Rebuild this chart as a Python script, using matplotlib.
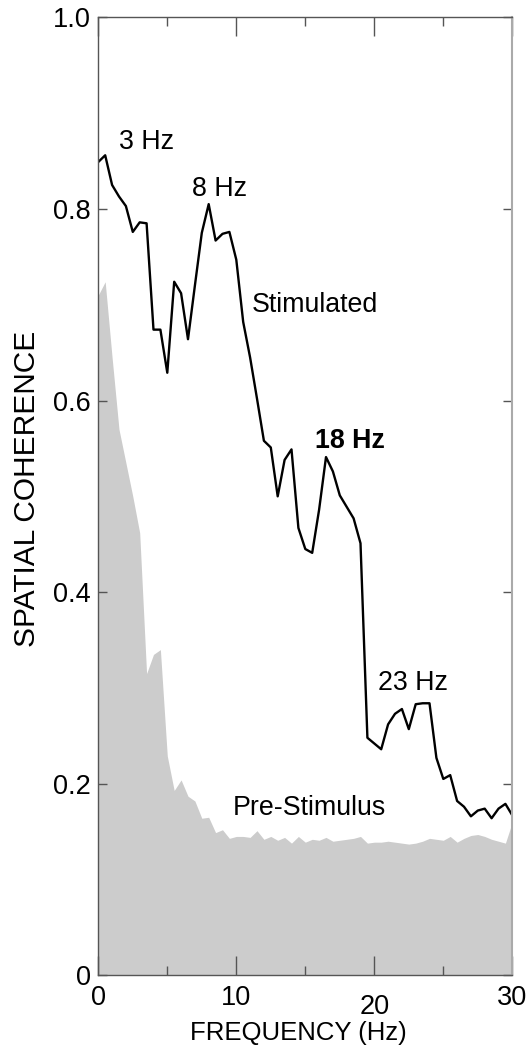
import numpy as np
import matplotlib
matplotlib.use('Agg')
import matplotlib.pyplot as plt
import matplotlib.transforms as mtransforms

plt.rcParams['font.family'] = ['Liberation Sans', 'DejaVu Sans']

# frequency grid (Hz)
freq = [0.0, 0.5, 1.0, 1.5, 2.0, 2.5, 3.0, 3.5, 4.0, 4.5,
        5.0, 5.5, 6.0, 6.5, 7.0, 7.5, 8.0, 8.5, 9.0, 9.5,
        10.0, 10.5, 11.0, 11.5, 12.0, 12.5, 13.0, 13.5, 14.0, 14.5,
        15.0, 15.5, 16.0, 16.5, 17.0, 17.5, 18.0, 18.5, 19.0, 19.5,
        20.0, 20.5, 21.0, 21.5, 22.0, 22.5, 23.0, 23.5, 24.0, 24.5,
        25.0, 25.5, 26.0, 26.5, 27.0, 27.5, 28.0, 28.5, 29.0, 29.5,
        30.0]

# coherence during stimulation
stimulated = [0.849, 0.856, 0.825, 0.813, 0.803, 0.776, 0.786, 0.785, 0.674, 0.674,
              0.629, 0.724, 0.712, 0.664, 0.720, 0.775, 0.805, 0.767, 0.774, 0.776,
              0.747, 0.682, 0.645, 0.602, 0.558, 0.551, 0.500, 0.538, 0.549, 0.467,
              0.445, 0.441, 0.486, 0.541, 0.526, 0.501, 0.489, 0.477, 0.451, 0.248,
              0.242, 0.236, 0.262, 0.273, 0.278, 0.257, 0.283, 0.284, 0.284, 0.227,
              0.205, 0.209, 0.182, 0.176, 0.166, 0.172, 0.174, 0.164, 0.174, 0.179,
              0.167]

# coherence before stimulus
pre_stimulus = [0.710, 0.724, 0.645, 0.570, 0.535, 0.500, 0.462, 0.315, 0.335, 0.340,
                0.229, 0.193, 0.204, 0.187, 0.182, 0.164, 0.165, 0.149, 0.152, 0.143,
                0.145, 0.145, 0.144, 0.151, 0.142, 0.145, 0.141, 0.144, 0.138, 0.145,
                0.139, 0.142, 0.141, 0.144, 0.140, 0.141, 0.142, 0.143, 0.145, 0.138,
                0.139, 0.139, 0.140, 0.139, 0.138, 0.137, 0.138, 0.140, 0.143, 0.142,
                0.141, 0.145, 0.139, 0.143, 0.146, 0.147, 0.145, 0.142, 0.140, 0.138,
                0.160]

xticks = [0, 10, 20, 30]
yticks = [0, 0.2, 0.4, 0.6, 0.8, 1.0]
ytick_labels = ['0', '0.2', '0.4', '0.6', '0.8', '1.0']

fig = plt.figure(figsize=(5.31, 10.5), dpi=100)
ax = fig.add_axes([0.1851, 0.0711, 0.7797, 0.9124])

ax.fill_between(freq, 0, pre_stimulus, color='#cccccc', linewidth=0)
ax.plot(freq, stimulated, color='black', lw=1.7)

ax.set_xlim(0, 30)
ax.set_ylim(0, 1.0)
ax.set_xticks(xticks)
ax.set_xticks([5, 15, 25], minor=True)
ax.set_yticks(yticks)
ax.set_yticklabels(ytick_labels)

ax.tick_params(axis='both', which='both', direction='in', top=True, right=True,
               color='#555555', width=1, labelsize=19.5)
ax.tick_params(axis='x', which='major', length=13.7, pad=7)
ax.tick_params(axis='x', which='minor', length=6.5)
ax.tick_params(axis='y', which='major', length=6.5, pad=5.4)

for side in ['left', 'top', 'bottom']:
    ax.spines[side].set_color('#555555')
    ax.spines[side].set_linewidth(1)
ax.spines['right'].set_color('#aaaaaa')
ax.spines['right'].set_linewidth(1.5)

# the "20" label sits a bit lower in the original
for lab in ax.get_xticklabels():
    if lab.get_text() == '20':
        lab.set_transform(lab.get_transform() +
                          mtransforms.ScaledTranslation(0, -9 / 100, fig.dpi_scale_trans))

ax.set_xlabel('FREQUENCY (Hz)', fontsize=18.5)
ax.xaxis.set_label_coords(0.4836, -0.048)
ax.set_ylabel('SPATIAL COHERENCE', fontsize=21.5)
ax.yaxis.set_label_coords(-0.138, 0.508)

ax.text(3.5, 0.863, '3 Hz', fontsize=19.3, ha='center', va='baseline')
ax.text(8.76, 0.813, '8 Hz', fontsize=19.3, ha='center', va='baseline')
ax.text(11.12, 0.692, 'Stimulated', fontsize=19.3, ha='left', va='baseline')
ax.text(18.27, 0.550, '18 Hz', fontsize=19.3, ha='center', va='baseline', fontweight='bold')
ax.text(22.83, 0.298, '23 Hz', fontsize=19.3, ha='center', va='baseline')
ax.text(9.74, 0.1675, 'Pre-Stimulus', fontsize=19.3, ha='left', va='baseline')

fig.savefig('out.png', dpi=100)
